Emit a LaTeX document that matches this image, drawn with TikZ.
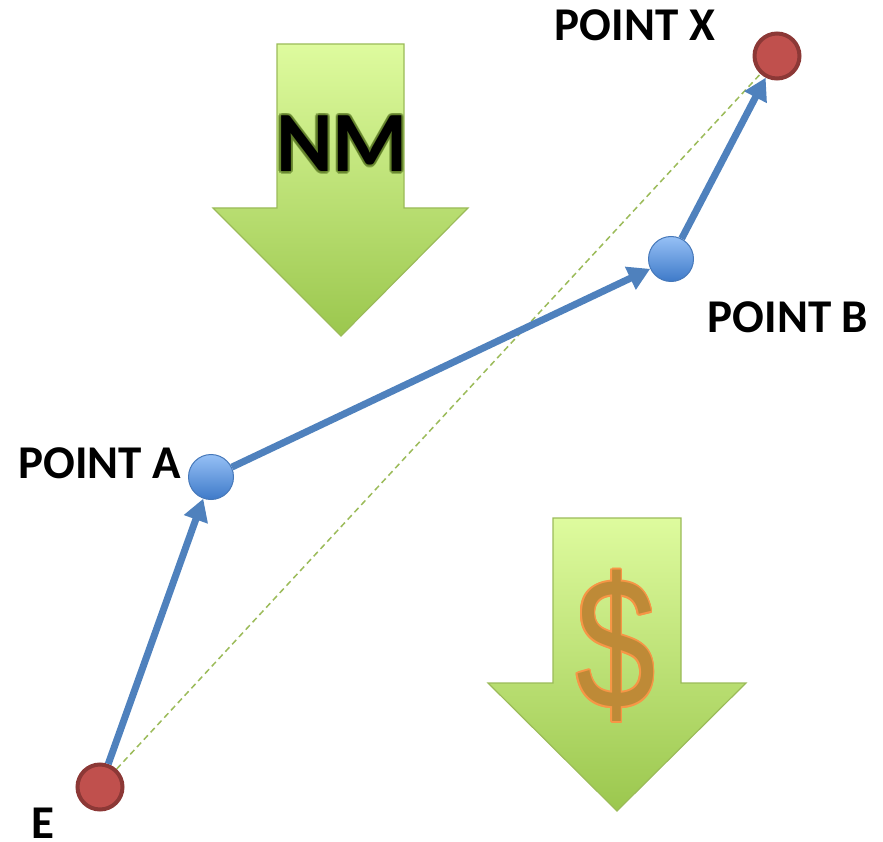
\documentclass[tikz,border=0pt]{standalone}
\usepackage{fontspec}
\setmainfont{Carlito}
\newfontfamily\dollarfont{Liberation Sans}
\usetikzlibrary{arrows.meta}
\definecolor{arrowTop}{RGB}{222,251,158}
\definecolor{arrowBot}{RGB}{155,199,78}
\definecolor{arrowEdge}{RGB}{155,187,89}
\definecolor{lineBlue}{RGB}{79,129,189}
\definecolor{redFill}{RGB}{192,80,77}
\definecolor{redEdge}{RGB}{140,56,54}
\definecolor{ballTop}{RGB}{150,192,246}
\definecolor{ballBot}{RGB}{62,122,200}
\definecolor{ballEdge}{RGB}{70,120,185}
\definecolor{dollarFill}{RGB}{190,138,55}
\definecolor{dollarEdge}{RGB}{247,150,70}
\definecolor{dashGreen}{RGB}{155,187,89}
\definecolor{nmGlow}{RGB}{95,125,40}
\begin{document}
\begin{tikzpicture}[x=1pt,y=-1pt,
  bigarrow/.style={draw=arrowEdge, line width=1.2pt, top color=arrowTop, bottom color=arrowBot, line join=miter},
  redpt/.style={circle, fill=redFill, draw=redEdge, line width=4pt, minimum size=45pt, inner sep=0pt},
  bluept/.style={circle, top color=ballTop, bottom color=ballBot, draw=ballEdge, line width=1pt, minimum size=45pt, inner sep=0pt},
  link/.style={draw=lineBlue, line width=7pt, -{Triangle[length=22pt,width=24pt]}},
  ptlabel/.style={font=\bfseries\fontsize{47}{50}\selectfont, inner sep=0pt},
  nmtext/.style={font=\bfseries\fontsize{86}{90}\selectfont, inner sep=0pt},
  dollar/.style={font=\dollarfont\fontsize{170}{190}\selectfont, inner sep=0pt, xscale=0.84, yscale=1.1},
]
\useasboundingbox (0,0) rectangle (883,842);
% big green arrows
\path[bigarrow] (277,44) -- (404,44) -- (404,208) -- (468,208) -- (341,336) -- (213,208) -- (277,208) -- cycle;
\path[bigarrow] (553,518) -- (681,518) -- (681,683) -- (746,683) -- (617,811) -- (488,683) -- (553,683) -- cycle;
% NM text with glow
\foreach \a in {0,30,...,330}
  \node[nmtext, text=nmGlow, opacity=0.5, xshift={2.2*cos(\a)*1pt}, yshift={2.2*sin(\a)*1pt}] (nmg\a) at (342,144) {NM};
\node[nmtext, text=black] (nm) at (342,144) {NM};
% dollar sign with outline
\foreach \a in {0,30,...,330}
  \node[dollar, text=dollarEdge, xshift={1.8*cos(\a)*1pt}, yshift={1.8*sin(\a)*1pt}] (dlo\a) at (616,646) {\$};
\node[dollar, text=dollarFill] (dl) at (616,646) {\$};
% points
\node[redpt] (E) at (100,787) {};
\node[redpt] (X) at (777,56) {};
\node[bluept] (A) at (211,477) {};
\node[bluept] (B) at (671,259) {};
% connectors
\draw[dashGreen, line width=1.5pt, dash pattern=on 6pt off 4pt] (E) -- (X);
\draw[link] (E) -- (A);
\draw[link] (A) -- (B);
\draw[link] (B) -- (X);
% labels
\node[ptlabel] (lx) at (635,25) {POINT X};
\node[ptlabel] (lb) at (788,317) {POINT B};
\node[ptlabel] (la) at (100,463) {POINT A};
\node[ptlabel] (le) at (43,823) {E};
\end{tikzpicture}
\end{document}
